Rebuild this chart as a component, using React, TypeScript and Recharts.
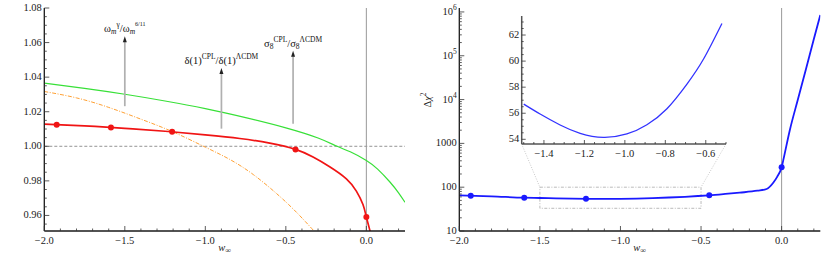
import React from 'react';
import { ComposedChart, Line, XAxis, YAxis, ReferenceLine, ReferenceArea } from 'recharts';

const FONT = '"Liberation Serif", "DejaVu Serif", serif';
const FS = 10.5;

// ---------------- Left panel ----------------
const greenW = [-2.0, -1.75, -1.5, -1.25, -1.0, -0.75, -0.5, -0.3, -0.182, -0.1, 0.0, 0.07, 0.145, 0.2, 0.24];
const greenV = [1.0365, 1.0335, 1.0301, 1.0262, 1.0218, 1.0166, 1.0107, 1.0048, 1.0, 0.9968, 0.9918, 0.9868, 0.9795, 0.9731, 0.9676];

const orangeW = [-2.0, -1.8, -1.6, -1.4, -1.2, -1.0, -0.85, -0.7, -0.54, -0.42, -0.33, -0.3];
const orangeV = [1.0317, 1.028, 1.0225, 1.0157, 1.0083, 0.9995, 0.9925, 0.9835, 0.9712, 0.9605, 0.9515, 0.9485];

const redW = [-2.0, -1.75, -1.5, -1.25, -1.0, -0.786, -0.6, -0.44, -0.331, -0.228, -0.124, -0.062, -0.021, 0.0, 0.025, 0.035];
const redV = [1.0128, 1.0118, 1.0104, 1.0087, 1.0066, 1.0045, 1.0018, 0.9982, 0.9938, 0.9882, 0.9812, 0.9741, 0.9663, 0.9591, 0.9503, 0.9465];
const redDotW = [-1.923, -1.586, -1.206, -0.44, 0.0];
const redDotV = [1.0125, 1.0109, 1.0084, 0.9982, 0.9591];

const arrowW = [-1.5, -0.9, -0.455];
const arrowFrom = [1.0232, 1.0102, 1.0131];
const arrowTo = [1.0637, 1.0453, 1.0552];

const xTicks = [-2.0, -1.9, -1.8, -1.7, -1.6, -1.5, -1.4, -1.3, -1.2, -1.1, -1.0, -0.9, -0.8, -0.7, -0.6, -0.5, -0.4, -0.3, -0.2, -0.1, 0.0, 0.1, 0.2];
const xMajor = [-2.0, -1.5, -1.0, -0.5, 0.0];
const leftYTicks = [0.955, 0.96, 0.965, 0.97, 0.975, 0.98, 0.985, 0.99, 0.995, 1.0, 1.005, 1.01, 1.015, 1.02, 1.025, 1.03, 1.035, 1.04, 1.045, 1.05, 1.055, 1.06, 1.065, 1.07, 1.075, 1.08];
const leftYMajor = [0.96, 0.98, 1.0, 1.02, 1.04, 1.06, 1.08];

// ---------------- Right panel ----------------
const blueW = [-2.0, -1.8, -1.6, -1.5, -1.4, -1.3, -1.2, -1.1, -1.0, -0.9, -0.8, -0.7, -0.6, -0.52, -0.45, -0.35, -0.26, -0.15, -0.093, -0.052, -0.027, 0.0, 0.01, 0.05, 0.1, 0.15, 0.2, 0.24];
const blueV = [65, 62, 57.5, 56.7, 55.8, 55.0, 54.35, 54.15, 54.35, 55.05, 56.25, 58.1, 60.4, 62.9, 65.3, 70, 75, 83, 91, 126, 174, 284, 410, 1950, 9800, 48000, 240000, 850000];
const blueDotW = [-1.929, -1.597, -1.214, -0.449, 0.0];
const blueDotV = [64, 57.5, 54.4, 65.3, 284];

const zoomBoxW = [-1.5, -0.5];
const zoomBoxV = [33, 100];
const connectorFromW = [-1.613, -0.345];
const connectorToW = [-1.5, -0.5];
const connectorFromV = 968;
const connectorToV = 100;

const logMajor = [10, 100, 1000, 10000, 100000, 1000000];
const logMult = [1, 2, 3, 4, 5, 6, 7, 8, 9];
const logDecades = [10, 100, 1000, 10000, 100000];
const logTicks = [...logDecades.flatMap((d) => logMult.map((m) => m * d)), 1000000];

// ---------------- Inset ----------------
const insetW = [-1.5, -1.419, -1.32, -1.221, -1.106, -0.99, -0.891, -0.792, -0.693, -0.611, -0.52];
const insetV = [56.7, 55.94, 55.1, 54.46, 54.15, 54.41, 55.12, 56.35, 58.24, 60.16, 62.89];
const insetXTicks = [-1.5, -1.45, -1.4, -1.35, -1.3, -1.25, -1.2, -1.15, -1.1, -1.05, -1.0, -0.95, -0.9, -0.85, -0.8, -0.75, -0.7, -0.65, -0.6, -0.55, -0.5];
const insetXMajor = [-1.4, -1.2, -1.0, -0.8, -0.6];
const insetYTicks = [54, 54.5, 55, 55.5, 56, 56.5, 57, 57.5, 58, 58.5, 59, 59.5, 60, 60.5, 61, 61.5, 62, 62.5, 63];
const insetYMajor = [54, 56, 58, 60, 62];

const pts = (w: number[], v: number[]) => w.map((x, i) => ({ w: x, v: v[i] }));

const fmtDec = (d: number) => (v: number) => (v < 0 ? '\u2212' : '') + Math.abs(v).toFixed(d);
const fmtInt = (v: number) => String(Math.round(v));
const fmtLog = (v: number) => {
  const e = Math.round(Math.log10(v));
  if (e <= 3) return String(Math.round(v));
  return (
    <>
      10<tspan dy={-5} fontSize={7.5}>{e}</tspan>
    </>
  );
};

type Side = 'bottom' | 'top' | 'left' | 'right';
const makeTick = (side: Side, majors: number[], fmt?: (v: number) => React.ReactNode, majorLen = 5, minorLen = 2.5) =>
  (p: any) => {
    const { x, y, payload } = p;
    const v = payload.value;
    const major = majors.some((m) => Math.abs(m - v) < 1e-7 * Math.max(1, Math.abs(m)));
    const len = major ? majorLen : minorLen;
    let l;
    if (side === 'bottom') l = <line x1={x} y1={y} x2={x} y2={y - len} />;
    else if (side === 'top') l = <line x1={x} y1={y} x2={x} y2={y + len} />;
    else if (side === 'left') l = <line x1={x} y1={y} x2={x + len} y2={y} />;
    else l = <line x1={x} y1={y} x2={x - len} y2={y} />;
    let t = null;
    if (major && fmt) {
      if (side === 'bottom')
        t = (
          <text x={x} y={y + 13} textAnchor="middle" fontFamily={FONT} fontSize={FS} fill="#222" stroke="none">
            {fmt(v)}
          </text>
        );
      else if (side === 'left')
        t = (
          <text x={x - 2.5} y={y + 3} textAnchor="end" fontFamily={FONT} fontSize={FS} fill="#222" stroke="none">
            {fmt(v)}
          </text>
        );
    }
    return (
      <g stroke="#333" strokeWidth={0.8}>
        {l}
        {t}
      </g>
    );
  };

const arrowShape = (label: React.ReactNode) => (p: any) => {
  const x = p.x1;
  const yTip = Math.min(p.y1, p.y2);
  const yBase = Math.max(p.y1, p.y2);
  return (
    <g>
      <line x1={x} y1={yBase} x2={x} y2={yTip + 4} stroke="#b0b0b0" strokeWidth={1.7} />
      <path d={`M${x},${yTip} L${x - 2},${yTip + 6} L${x + 2},${yTip + 6} Z`} fill="#222" />
      <text x={x} y={yTip - 4} textAnchor="middle" fontFamily={FONT} fontSize={FS} fill="#111">
        {label}
      </text>
    </g>
  );
};

const arrowLabels: React.ReactNode[] = [
  <>
    ω<tspan fontSize={7.5} fontStyle="italic" dy={2}>m</tspan>
    <tspan fontSize={7.5} dy={-7}>γ</tspan>
    <tspan dy={5}>/ω</tspan>
    <tspan fontSize={7.5} fontStyle="italic" dy={2}>m</tspan>
    <tspan fontSize={6} dy={-8}>6/11</tspan>
  </>,
  <>
    δ(1)<tspan fontSize={7.5} dy={-5}>CPL</tspan>
    <tspan dy={5}>/δ(1)</tspan>
    <tspan fontSize={7.5} dy={-5}>ΛCDM</tspan>
  </>,
  <>
    σ<tspan fontSize={7.5} dy={2}>8</tspan>
    <tspan fontSize={7.5} dy={-7}>CPL</tspan>
    <tspan dy={5}>/σ</tspan>
    <tspan fontSize={7.5} dy={2}>8</tspan>
    <tspan fontSize={7.5} dy={-7}>ΛCDM</tspan>
  </>,
];

const xLabel = () => (
  <text x={224.7} y={250.5} textAnchor="middle" fontFamily={FONT} fontSize={FS} fill="#222">
    <tspan fontStyle="italic">w</tspan>
    <tspan fontSize={8} dy={2}>∞</tspan>
  </text>
);

const yLabelRight = () => (
  <text transform="translate(16,100) rotate(-90)" textAnchor="middle" fontFamily={FONT} fontSize={FS} fill="#222">
    Δ<tspan fontStyle="italic">χ</tspan>
    <tspan fontSize={7.5} dy={-5}>2</tspan>
  </text>
);

const frameB = { stroke: '#1a1a1a', strokeWidth: 1.3 };
const frameT = { stroke: '#555', strokeWidth: 1 };
const frameR = { stroke: '#888', strokeWidth: 1.4 };

const MAIN_X: [number, number] = [-2.0, 0.24];

export default function App() {
  return (
    <div style={{ position: 'absolute', left: 0, top: 0, width: 830, height: 262, background: '#fff' }}>
      {/* Left panel */}
      <div style={{ position: 'absolute', left: 0, top: 0 }}>
        <ComposedChart width={415} height={262} margin={{ top: 8, right: 10, bottom: 6, left: 4.3 }}>
          <XAxis xAxisId={0} type="number" dataKey="w" domain={MAIN_X} allowDataOverflow ticks={xTicks} interval={0}
            tickLine={false} tickSize={0} tickMargin={0} axisLine={frameB} height={25}
            tick={makeTick('bottom', xMajor, fmtDec(1))} label={xLabel} />
          <XAxis xAxisId="top" orientation="top" type="number" domain={MAIN_X} allowDataOverflow ticks={xTicks} interval={0}
            tickLine={false} tickSize={0} tickMargin={0} axisLine={frameT} height={0}
            tick={makeTick('top', xMajor)} />
          <YAxis yAxisId={0} type="number" dataKey="v" domain={[0.951, 1.08]} allowDataOverflow ticks={leftYTicks} interval={0}
            tickLine={false} tickSize={0} tickMargin={0} axisLine={frameB} width={40}
            tick={makeTick('left', leftYMajor, fmtDec(2))} />
          <YAxis yAxisId="right" orientation="right" type="number" domain={[0.951, 1.08]} allowDataOverflow ticks={leftYTicks} interval={0}
            tickLine={false} tickSize={0} tickMargin={0} axisLine={frameR} width={0}
            tick={makeTick('right', leftYMajor)} />
          <ReferenceLine y={1.0} stroke="#888" strokeDasharray="3 2" strokeWidth={0.9} />
          <ReferenceLine x={0} stroke="#999" strokeWidth={1} />
          <Line data={pts(greenW, greenV)} dataKey="v" type="natural" stroke="#38e038" strokeWidth={1.2} dot={false} activeDot={false} isAnimationActive={false} />
          <Line data={pts(orangeW, orangeV)} dataKey="v" type="natural" stroke="#ffa033" strokeWidth={1} strokeDasharray="4 1.5 1 1.5" dot={false} activeDot={false} isAnimationActive={false} />
          <Line data={pts(redW, redV)} dataKey="v" type="natural" stroke="#f01414" strokeWidth={1.7} dot={false} activeDot={false} isAnimationActive={false} />
          <Line data={pts(redDotW, redDotV)} dataKey="v" stroke="none" dot={{ r: 3, fill: '#f01414', stroke: 'none' }} activeDot={false} isAnimationActive={false} />
          {arrowW.map((w, i) => (
            <ReferenceLine key={i} segment={[{ x: w, y: arrowFrom[i] }, { x: w, y: arrowTo[i] }]} shape={arrowShape(arrowLabels[i])} />
          ))}
        </ComposedChart>
      </div>

      {/* Right panel */}
      <div style={{ position: 'absolute', left: 415, top: 0 }}>
        <ComposedChart width={415} height={262} margin={{ top: 8, right: 9.7, bottom: 6, left: 4.3 }}>
          <XAxis xAxisId={0} type="number" dataKey="w" domain={MAIN_X} allowDataOverflow ticks={xTicks} interval={0}
            tickLine={false} tickSize={0} tickMargin={0} axisLine={frameB} height={25}
            tick={makeTick('bottom', xMajor, fmtDec(1))} label={xLabel} />
          <XAxis xAxisId="top" orientation="top" type="number" domain={MAIN_X} allowDataOverflow ticks={xTicks} interval={0}
            tickLine={false} tickSize={0} tickMargin={0} axisLine={frameT} height={0}
            tick={makeTick('top', xMajor)} />
          <YAxis yAxisId={0} type="number" dataKey="v" scale="log" domain={[10, 1230000]} allowDataOverflow ticks={logTicks} interval={0}
            tickLine={false} tickSize={0} tickMargin={0} axisLine={frameB} width={40}
            tick={makeTick('left', logMajor, fmtLog)} label={yLabelRight} />
          <YAxis yAxisId="right" orientation="right" type="number" scale="log" domain={[10, 1230000]} allowDataOverflow ticks={logTicks} interval={0}
            tickLine={false} tickSize={0} tickMargin={0} axisLine={frameR} width={0}
            tick={makeTick('right', logMajor)} />
          <ReferenceLine x={0} stroke="#999" strokeWidth={1} />
          <ReferenceArea x1={zoomBoxW[0]} x2={zoomBoxW[1]} y1={zoomBoxV[0]} y2={zoomBoxV[1]} fill="none" fillOpacity={0}
            stroke="#aaa" strokeWidth={0.8} strokeDasharray="3 1.5 1 1.5" />
          {connectorFromW.map((w, i) => (
            <ReferenceLine key={i} segment={[{ x: w, y: connectorFromV }, { x: connectorToW[i], y: connectorToV }]}
              stroke="#bbb" strokeWidth={0.8} strokeDasharray="1 1.5" />
          ))}
          <Line data={pts(blueW, blueV)} dataKey="v" type="monotone" stroke="#1a1aff" strokeWidth={1.8} dot={false} activeDot={false} isAnimationActive={false} />
          <Line data={pts(blueDotW, blueDotV)} dataKey="v" stroke="none" dot={{ r: 3, fill: '#1a1aff', stroke: 'none' }} activeDot={false} isAnimationActive={false} />
        </ComposedChart>
      </div>

      {/* Inset */}
      <div style={{ position: 'absolute', left: 480, top: 0 }}>
        <ComposedChart width={260} height={165} margin={{ top: 16, right: 14, bottom: 0, left: 11.7 }}>
          <XAxis xAxisId={0} type="number" dataKey="w" domain={[-1.51, -0.5]} allowDataOverflow ticks={insetXTicks} interval={0}
            tickLine={false} tickSize={0} tickMargin={0} axisLine={{ stroke: '#555', strokeWidth: 1.5 }} height={21}
            tick={makeTick('bottom', insetXMajor, fmtDec(1), 4, 2)} />
          <XAxis xAxisId="top" orientation="top" type="number" domain={[-1.51, -0.5]} allowDataOverflow ticks={insetXTicks} interval={0}
            tickLine={false} tickSize={0} tickMargin={0} axisLine={{ stroke: '#555', strokeWidth: 1.5 }} height={0}
            tick={makeTick('top', insetXMajor, undefined, 4, 2)} />
          <YAxis yAxisId={0} type="number" dataKey="v" domain={[53.64, 63.46]} allowDataOverflow ticks={insetYTicks} interval={0}
            tickLine={false} tickSize={0} tickMargin={0} axisLine={{ stroke: '#555', strokeWidth: 1.5 }} width={30}
            tick={makeTick('left', insetYMajor, fmtInt, 4, 2)} />
          <YAxis yAxisId="right" orientation="right" type="number" domain={[53.64, 63.46]} allowDataOverflow ticks={insetYTicks} interval={0}
            tickLine={false} tickSize={0} tickMargin={0} axisLine={{ stroke: '#555', strokeWidth: 1.5 }} width={0}
            tick={makeTick('right', insetYMajor, undefined, 4, 2)} />
          <Line data={pts(insetW, insetV)} dataKey="v" type="natural" stroke="#3333ff" strokeWidth={1.3} dot={false} activeDot={false} isAnimationActive={false} />
        </ComposedChart>
      </div>
    </div>
  );
}
